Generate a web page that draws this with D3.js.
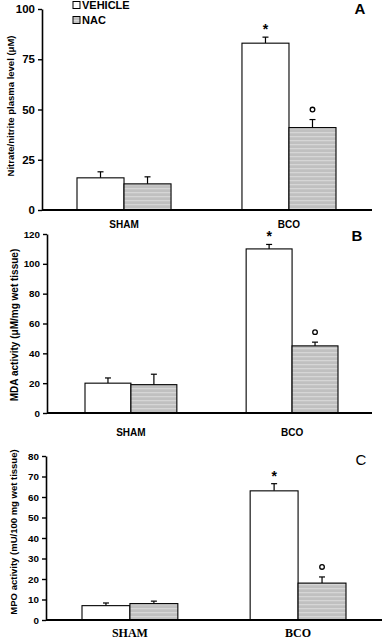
<!DOCTYPE html>
<html><head><meta charset="utf-8">
<script src="https://cdn.jsdelivr.net/npm/d3@7"></script>
<style>body{margin:0;background:#fff}svg{display:block}</style>
</head><body>
<script>
const categories = ["SHAM", "BCO"];
const series = ["VEHICLE", "NAC"];

const nitriteVehicle = [16, 83];
const nitriteNac = [13, 41];
const nitriteVehicleErr = [3, 3];
const nitriteNacErr = [3.5, 4];
const nitriteTicks = [0, 25, 50, 75, 100];

const mdaVehicle = [20, 110];
const mdaNac = [19, 45];
const mdaVehicleErr = [3.5, 3];
const mdaNacErr = [7, 2.5];
const mdaTicks = [0, 20, 40, 60, 80, 100, 120];

const mpoVehicle = [7, 63];
const mpoNac = [8, 18];
const mpoVehicleErr = [1.3, 3.5];
const mpoNacErr = [1.2, 3];
const mpoTicks = [0, 10, 20, 30, 40, 50, 60, 70, 80];

const W = 383, H = 640;
const svg = d3.select("body").append("svg").attr("width", W).attr("height", H);

const defs = svg.append("defs");
const pat = defs.append("pattern").attr("id", "hatch").attr("patternUnits", "userSpaceOnUse")
  .attr("width", 6).attr("height", 4);
pat.append("rect").attr("width", 6).attr("height", 4).attr("fill", "#c0c0c0");
pat.append("rect").attr("y", 0).attr("width", 6).attr("height", 1.3).attr("fill", "#d6d6d6");

const panels = [
  {letter: "A", vals: [nitriteVehicle, nitriteNac], errs: [nitriteVehicleErr, nitriteNacErr], ticks: nitriteTicks,
   max: 100, ax: 42, xEnd: 372, top: 9, bottom: 210, bands: [77, 336], tickFont: 11.5,
   ylabel: "Nitrate/nitrite plasma level (\u03bcM)", ylx: 10, yly: 106, ylSize: 9.5,
   catY: 228, catFont: "Liberation Sans, Arial, sans-serif", catSize: 10,
   letterX: 360, letterY: 14, letterWeight: "bold"},
  {letter: "B", vals: [mdaVehicle, mdaNac], errs: [mdaVehicleErr, mdaNacErr], ticks: mdaTicks,
   max: 120, ax: 47, xEnd: 372, top: 234, bottom: 413, bands: [85, 338], tickFont: 9.8,
   ylabel: "MDA activity (\u03bcM/mg wet tissue)", ylx: 14, yly: 325, ylSize: 10,
   catY: 436, catFont: "Liberation Sans, Arial, sans-serif", catSize: 10,
   letterX: 357, letterY: 241, letterWeight: "bold"},
  {letter: "C", vals: [mpoVehicle, mpoNac], errs: [mpoVehicleErr, mpoNacErr], ticks: mpoTicks,
   max: 80, ax: 46, xEnd: 382, top: 456, bottom: 620, bands: [82, 346], tickFont: 9.8,
   ylabel: "MPO activity (mU/100 mg wet tissue)", ylx: 13, yly: 532, ylSize: 9.5,
   catY: 637, catFont: "Liberation Serif, 'Times New Roman', serif", catSize: 12,
   letterX: 361, letterY: 465, letterWeight: "normal"}
];

panels.forEach(p => {
  const g = svg.append("g");
  const y = d3.scaleLinear().domain([0, p.max]).range([p.bottom, p.top]);
  const x = d3.scaleBand().domain(categories).range(p.bands).paddingInner(0.43).paddingOuter(0);
  const xs = d3.scaleBand().domain(series).range([0, x.bandwidth()]).padding(0);

  const yAxis = g.append("g").attr("transform", `translate(${p.ax},0)`)
    .call(d3.axisLeft(y).tickValues(p.ticks).tickSize(4).tickSizeOuter(0).tickPadding(3));
  yAxis.select(".domain").attr("stroke-width", 1.6);
  yAxis.selectAll(".tick line").attr("stroke-width", 1.4);
  yAxis.selectAll("text").attr("font-family", "Liberation Sans, Arial, sans-serif")
    .attr("font-weight", "bold").attr("font-size", p.tickFont).attr("fill", "#000");

  series.forEach((s, si) => {
    categories.forEach((c, ci) => {
      const v = p.vals[si][ci], e = p.errs[si][ci];
      const bx = x(c) + xs(s), bw = xs.bandwidth();
      const cx = bx + bw / 2;
      g.append("line").attr("x1", cx).attr("x2", cx).attr("y1", y(v)).attr("y2", y(v + e))
        .attr("stroke", "#000").attr("stroke-width", 1.2);
      g.append("line").attr("x1", cx - 3).attr("x2", cx + 3).attr("y1", y(v + e)).attr("y2", y(v + e))
        .attr("stroke", "#000").attr("stroke-width", 1.2);
      g.append("rect").attr("x", bx).attr("y", y(v)).attr("width", bw).attr("height", y(0) - y(v))
        .attr("fill", si === 0 ? "#fff" : "url(#hatch)").attr("stroke", "#000").attr("stroke-width", 1.1);
      if (c === "BCO") {
        if (si === 0) {
          g.append("text").attr("x", cx).attr("y", y(v + e) - 10 + 7).attr("text-anchor", "middle")
            .attr("font-family", "Liberation Sans, Arial, sans-serif").attr("font-weight", "bold")
            .attr("font-size", 14).text("*");
        } else {
          g.append("circle").attr("cx", cx).attr("cy", y(v + e) - 10).attr("r", 2.3)
            .attr("fill", "none").attr("stroke", "#000").attr("stroke-width", 1.3);
        }
      }
    });
  });

  g.append("line").attr("x1", p.ax).attr("x2", p.xEnd).attr("y1", y(0)).attr("y2", y(0))
    .attr("stroke", "#000").attr("stroke-width", 2);

  categories.forEach(c => {
    g.append("text").attr("x", x(c) + x.bandwidth() / 2).attr("y", p.catY).attr("text-anchor", "middle")
      .attr("font-family", p.catFont).attr("font-weight", "bold").attr("font-size", p.catSize).text(c);
  });

  g.append("text").attr("transform", `translate(${p.ylx + 3.5},${p.yly}) rotate(-90)`)
    .attr("text-anchor", "middle").attr("font-family", "Liberation Sans, Arial, sans-serif")
    .attr("font-weight", "bold").attr("font-size", p.ylSize).text(p.ylabel);

  g.append("text").attr("x", p.letterX).attr("y", p.letterY).attr("text-anchor", "middle")
    .attr("font-family", "Liberation Sans, Arial, sans-serif").attr("font-weight", p.letterWeight)
    .attr("font-size", 15).text(p.letter);
});

const leg = svg.append("g");
series.forEach((s, i) => {
  const ly = 5 + i * 15;
  leg.append("rect").attr("x", 73).attr("y", ly - 3.5).attr("width", 7).attr("height", 7)
    .attr("fill", i === 0 ? "#fff" : "url(#hatch)").attr("stroke", "#000").attr("stroke-width", 1);
  leg.append("text").attr("x", 82).attr("y", ly + 4).attr("font-family", "Liberation Sans, Arial, sans-serif")
    .attr("font-weight", "bold").attr("font-size", 11).text(s);
});
</script>
</body></html>
